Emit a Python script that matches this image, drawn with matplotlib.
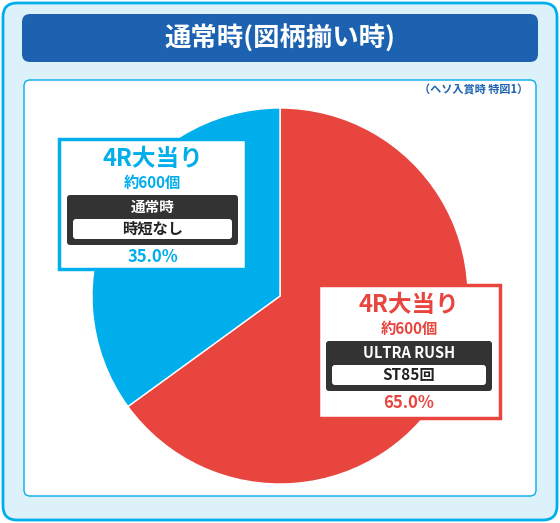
import matplotlib
matplotlib.use("Agg")
import matplotlib.pyplot as plt
from matplotlib.patches import FancyBboxPatch, Rectangle

plt.rcParams['font.family'] = ['Noto Sans CJK JP', 'DejaVu Sans']

title = "通常時(図柄揃い時)"
note = "（ヘソ入賞時 特図1）"
labels = ["4R大当り", "4R大当り"]
balls = ["約600個", "約600個"]
modes = ["ULTRA RUSH", "通常時"]
subs = ["ST85回", "時短なし"]
values = [65.0, 35.0]
colors = ["#E8453F", "#00AEEB"]

W, H = 560, 523
fig = plt.figure(figsize=(W/100, H/100), dpi=100)
bg = fig.add_axes([0, 0, 1, 1], zorder=0)
bg.set_xlim(0, W); bg.set_ylim(H, 0); bg.axis('off')

bg.add_patch(FancyBboxPatch((3, 3), W-6, H-6, boxstyle="round,pad=0,rounding_size=14",
                            fc="#DDF1FB", ec="#00AEEB", lw=2))
bg.add_patch(FancyBboxPatch((22, 14), 516, 48, boxstyle="round,pad=0,rounding_size=8",
                            fc="#1D62B0", ec="none"))
bg.text(280, 39, title, color="white", fontsize=19, fontweight="bold", ha="center", va="center")
bg.add_patch(FancyBboxPatch((24, 80), 512, 416, boxstyle="round,pad=0,rounding_size=6",
                            fc="white", ec="#00AEEB", lw=1))
bg.text(528, 90, note, color="#1D62B0", fontsize=8, fontweight="bold", ha="right", va="center")

pax = fig.add_axes([92/W, (H-484)/H, 376/W, 376/H], zorder=1)
pax.pie(values, colors=colors, startangle=90, counterclock=False,
        wedgeprops=dict(ec="white", lw=1))
pax.set_xlim(-1.0, 1.0); pax.set_ylim(-1.0, 1.0)
pax.set_aspect('equal')
pax.patch.set_alpha(0)

ax = fig.add_axes([0, 0, 1, 1], zorder=2)
ax.set_xlim(0, W); ax.set_ylim(H, 0); ax.axis('off')
ax.patch.set_alpha(0)

def box(x0, y0, w, h, i):
    c = colors[i]
    ax.add_patch(Rectangle((x0, y0), w, h, fc="white", ec=c, lw=2.5, zorder=5))
    cx = x0 + w/2
    ax.text(cx, y0+20, labels[i], color=c, fontsize=17, fontweight="bold", ha="center", va="center", zorder=6)
    ax.text(cx, y0+44, balls[i], color=c, fontsize=11, fontweight="bold", ha="center", va="center", zorder=6)
    ax.add_patch(FancyBboxPatch((x0+8, y0+56), w-16, 50, boxstyle="round,pad=0,rounding_size=3",
                                fc="#333333", ec="none", zorder=6))
    ax.text(cx, y0+68, modes[i], color="white", fontsize=10.5, fontweight="bold", ha="center", va="center", zorder=7)
    ax.add_patch(FancyBboxPatch((x0+14, y0+80), w-28, 20, boxstyle="round,pad=0,rounding_size=3",
                                fc="white", ec="none", zorder=7))
    ax.text(cx, y0+90, subs[i], color="#222222", fontsize=11, fontweight="bold", ha="center", va="center", zorder=8)
    ax.text(cx, y0+118, f"{values[i]:.1f}%", color=c, fontsize=12, fontweight="bold", ha="center", va="center", zorder=6)

box(59, 139, 187, 130, 1)
box(318, 285, 182, 133, 0)

fig.savefig("out.png", dpi=100)
